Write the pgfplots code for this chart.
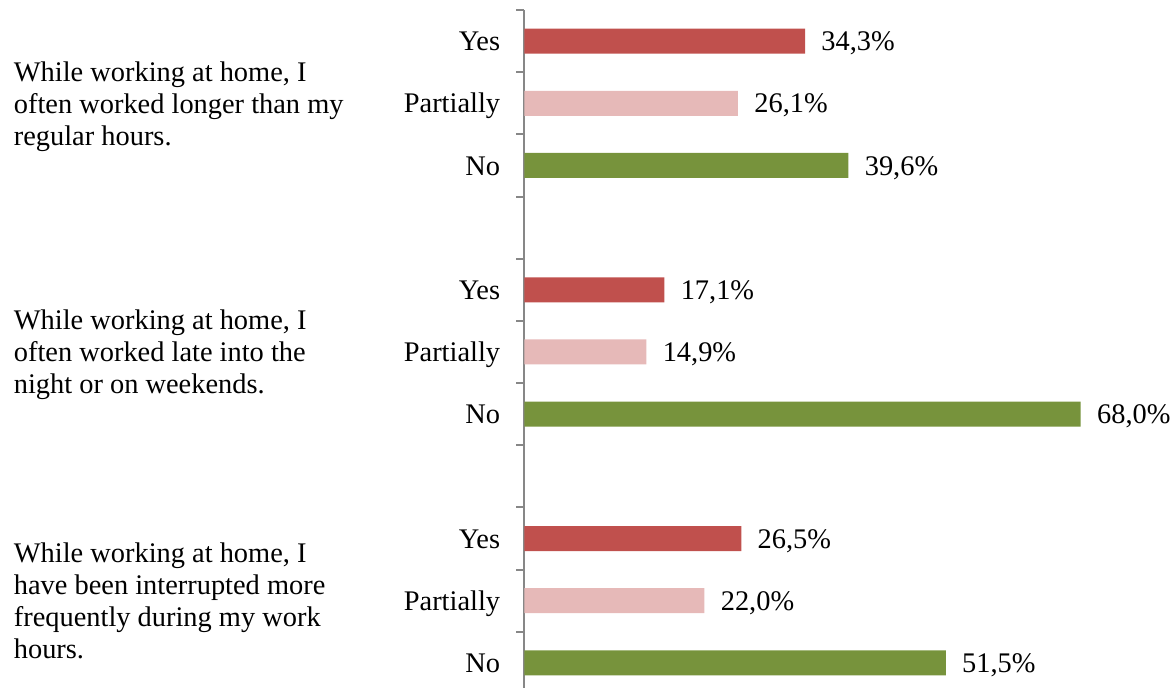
\documentclass[border=0pt]{standalone}
\usepackage{fontspec}
\setmainfont{Liberation Serif}
\usepackage{pgfplots}
\pgfplotsset{compat=1.18}
\definecolor{cyes}{HTML}{C0504D}
\definecolor{cpart}{HTML}{E6B9B8}
\definecolor{cno}{HTML}{77933C}
\definecolor{caxis}{HTML}{878787}
\begin{document}
\fontsize{14.2pt}{16pt}\selectfont
\begin{tikzpicture}
\useasboundingbox (-262.25pt,3pt) rectangle (325.25pt,347pt);
\begin{axis}[
  at={(0,0)}, anchor=south west,
  scale only axis,
  width=286.3pt, height=342pt,
  xbar, bar shift=0pt, bar width=12.5pt,
  xmin=0, xmax=70,
  ymin=0.5, ymax=11.5,
  y dir=reverse,
  enlargelimits=false,
  clip=false,
  axis x line=none,
  axis y line*=left,
  axis line style={draw=caxis, line width=1pt},
  ytick={1,2,3,5,6,7,9,10,11},
  yticklabels={Yes,Partially,No,Yes,Partially,No,Yes,Partially,No},
  minor ytick={0.5,1.5,...,11.5},
  major tick length=0pt,
  minor tick length=4pt,
  tick align=outside,
  every tick/.style={draw=caxis, line width=1pt},
  minor tick style={draw=caxis, line width=1pt},
  yticklabel style={anchor=base east, inner sep=0pt, xshift=-12pt, yshift=-4.8pt},
  point meta=explicit symbolic,
  nodes near coords,
  every node near coord/.append style={anchor=base west, inner sep=0pt, xshift=8pt, yshift=-4.8pt, text=black},
]
\addplot[draw=none, fill=cyes] coordinates {(34.3,1) [34,3\%] (17.1,5) [17,1\%] (26.5,9) [26,5\%]};
\addplot[draw=none, fill=cpart] coordinates {(26.1,2) [26,1\%] (14.9,6) [14,9\%] (22.0,10) [22,0\%]};
\addplot[draw=none, fill=cno] coordinates {(39.6,3) [39,6\%] (68.0,7) [68,0\%] (51.5,11) [51,5\%]};
\node[anchor=west, align=left, inner sep=0pt, xshift=-255.5pt, yshift=-1.5pt] at (axis cs:0,2) {While working at home, I\\often worked longer than my\\regular hours.};
\node[anchor=west, align=left, inner sep=0pt, xshift=-255.5pt, yshift=-1.5pt] at (axis cs:0,6) {While working at home, I\\often worked late into the\\night or on weekends.};
\node[anchor=west, align=left, inner sep=0pt, xshift=-255.5pt] at (axis cs:0,10) {While working at home, I\\have been interrupted more\\frequently during my work\\hours.};
\end{axis}
\end{tikzpicture}
\end{document}
